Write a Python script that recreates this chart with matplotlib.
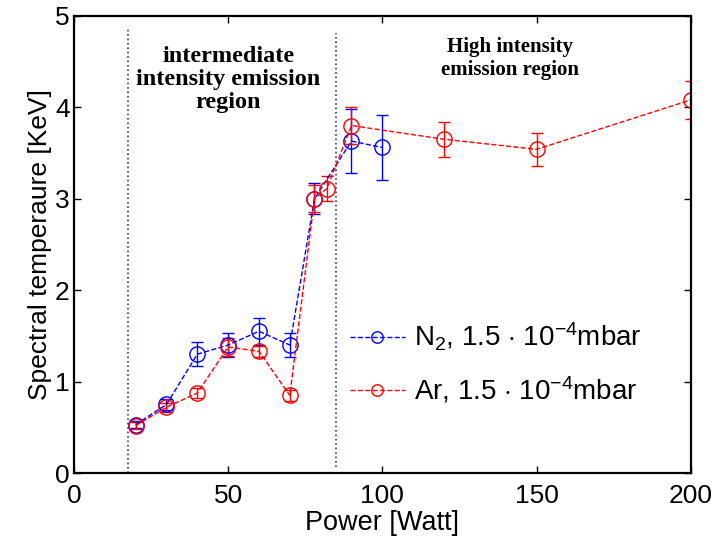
import matplotlib
matplotlib.use("Agg")
import matplotlib.pyplot as plt

# Data
n2_power = [20, 30, 40, 50, 60, 70, 78, 90, 100]
n2_temp = [0.53, 0.75, 1.30, 1.40, 1.55, 1.40, 3.00, 3.63, 3.56]
n2_err = [0.04, 0.06, 0.13, 0.13, 0.15, 0.13, 0.17, 0.35, 0.36]

ar_power = [20, 30, 40, 50, 60, 70, 78, 82, 90, 120, 150, 200]
ar_temp = [0.52, 0.72, 0.875, 1.38, 1.33, 0.85, 3.00, 3.11, 3.80, 3.65, 3.54, 4.08]
ar_err = [0.04, 0.05, 0.05, 0.10, 0.06, 0.06, 0.15, 0.14, 0.20, 0.19, 0.18, 0.21]

region_bounds = [17.5, 85]
xticks = [0, 50, 100, 150, 200]
yticks = [0, 1, 2, 3, 4, 5]

plt.rcParams['font.family'] = ['Liberation Sans', 'DejaVu Sans']
plt.rcParams['mathtext.fontset'] = 'custom'
plt.rcParams['mathtext.rm'] = 'Liberation Sans'
plt.rcParams['mathtext.it'] = 'Liberation Sans:italic'

fig = plt.figure(figsize=(7.18, 5.45), dpi=100)
ax = fig.add_axes([0.103, 0.132, 0.859, 0.839])

eb1 = ax.errorbar(n2_power, n2_temp, yerr=n2_err, color='#0000ff', ls='--', lw=1,
                  marker='o', mfc='none', mec='#0000ff', ms=11, mew=1,
                  capsize=4.5, elinewidth=1, capthick=1)
eb2 = ax.errorbar(ar_power, ar_temp, yerr=ar_err, color='#ff0000', ls='--', lw=1,
                  marker='o', mfc='none', mec='#ff0000', ms=11, mew=1,
                  capsize=4.5, elinewidth=1, capthick=1)

ax.plot([region_bounds[0]] * 2, [0, 4.86], ls=':', color='#2a3f7a', lw=1.2)
ax.plot([region_bounds[1]] * 2, [0.07, 4.81], ls=':', color='#2a3f7a', lw=1.2)

ax.text(50, 4.30, 'intermediate\nintensity emission\nregion', ha='center', va='center',
        family='Liberation Serif', fontweight='bold', fontsize=17.5, linespacing=1.12)
ax.text(141.5, 4.53, 'High intensity\nemission region', ha='center', va='center',
        family='Liberation Serif', fontweight='bold', fontsize=15, linespacing=1.18)

ax.set_xlim(0, 200)
ax.set_ylim(0, 5)
ax.set_xticks(xticks)
ax.set_yticks(yticks)
ax.tick_params(direction='in', top=True, right=True, labelsize=19, length=5, width=1)
ax.tick_params(axis='x', pad=8)
ax.tick_params(axis='y', pad=3)
for s in ax.spines.values():
    s.set_linewidth(1.6)
ax.set_xlabel('Power [Watt]', fontsize=19.5, labelpad=1.5)
ax.set_ylabel('Spectral temperaure [KeV]', fontsize=19, labelpad=2)

leg = ax.legend([eb1[0], eb2[0]],
                [r'N$_2$, 1.5 $\cdot$ 10$^{-4}$mbar', r'Ar, 1.5 $\cdot$ 10$^{-4}$mbar'],
                loc='center left', bbox_to_anchor=(0.447, 0.241), frameon=False,
                borderpad=0, borderaxespad=0, markerscale=0.75,
                fontsize=20, handlelength=2.0, labelspacing=0.78, handletextpad=0.3)

fig.savefig('out.png', dpi=100)
